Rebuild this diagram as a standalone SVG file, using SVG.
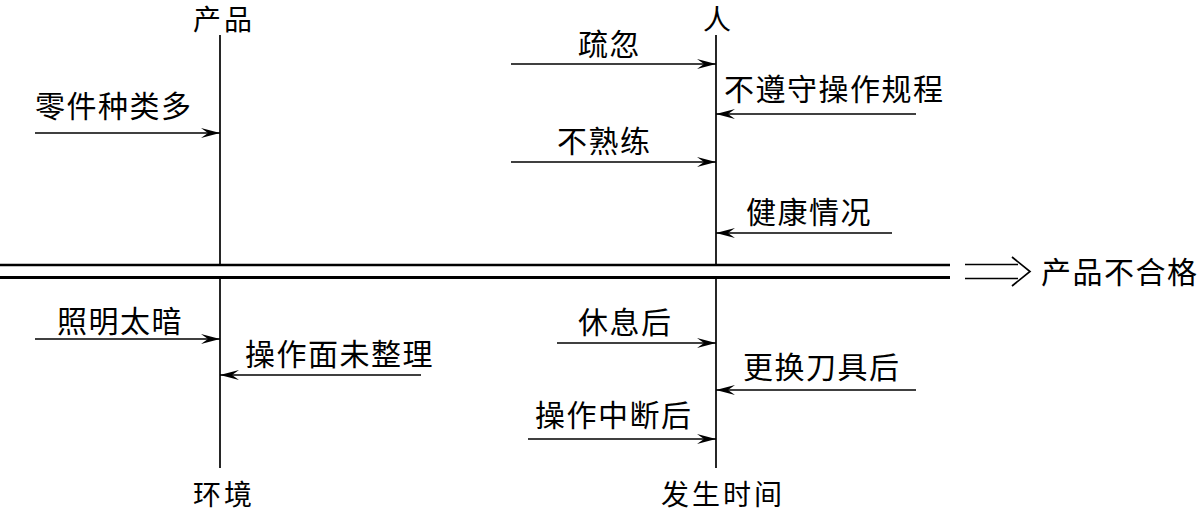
<svg xmlns="http://www.w3.org/2000/svg" width="1202" height="512" viewBox="0 0 1202 512">
<style>
text{font-family:"Noto Sans CJK SC","Noto Sans CJK JP",sans-serif;font-size:30px;fill:#000;letter-spacing:1.5px}
.edge{font-size:28px;letter-spacing:3px}
.ln{stroke:#000;stroke-width:1.7;fill:none}
.ar{stroke:#000;stroke-width:1.5;fill:none;marker-end:url(#ah)}
</style>
<defs>
<marker id="ah" markerUnits="userSpaceOnUse" markerWidth="24" markerHeight="12" viewBox="-20 -6 22 12" refX="0" refY="0" orient="auto">
<path d="M0,0 L-19,-5 L-12,0 L-19,5 Z" fill="#000"/>
</marker>
</defs>
<rect width="1202" height="512" fill="#fff"/>
<g id="spine">
<line x1="0" y1="265" x2="950" y2="265" stroke="#000" stroke-width="2.4"/>
<line x1="0" y1="277.5" x2="950" y2="277.5" stroke="#000" stroke-width="3.2"/>
<path d="M965,264.5 H1018 M965,278.5 H1018 M1012,257 L1030,271.5 L1012,286" class="ln" stroke-width="1.8"/>
</g>
<g id="node-product"><text class="edge" x="193" y="30">产品</text></g>
<g id="node-person"><text class="edge" x="703" y="30">人</text></g>
<g id="node-env"><text class="edge" x="193" y="505">环境</text></g>
<g id="node-time"><text class="edge" x="661" y="505">发生时间</text></g>
<g id="node-result"><text x="1041" y="283">产品不合格</text></g>
<g id="bones">
<line class="ln" x1="220" y1="35" x2="220" y2="264"/>
<line class="ln" x1="220" y1="279" x2="220" y2="468"/>
<line class="ln" x1="716" y1="35" x2="716" y2="264"/>
<line class="ln" x1="716" y1="279" x2="716" y2="468"/>
</g>
<g id="connectors">
<line class="ar" x1="35" y1="133" x2="220" y2="133"/>
<line class="ar" x1="511" y1="64" x2="716" y2="64"/>
<line class="ar" x1="916" y1="114" x2="716" y2="114"/>
<line class="ar" x1="511" y1="162" x2="716" y2="162"/>
<line class="ar" x1="892" y1="233" x2="716" y2="233"/>
<line class="ar" x1="35" y1="339" x2="220" y2="339"/>
<line class="ar" x1="421" y1="375" x2="220" y2="375"/>
<line class="ar" x1="557" y1="343" x2="716" y2="343"/>
<line class="ar" x1="916" y1="390" x2="716" y2="390"/>
<line class="ar" x1="528" y1="439" x2="716" y2="439"/>
</g>
<g id="labels">
<g id="c1"><text x="35" y="117">零件种类多</text></g>
<g id="c2"><text x="578" y="55">疏忽</text></g>
<g id="c3"><text x="724" y="100">不遵守操作规程</text></g>
<g id="c4"><text x="557" y="152">不熟练</text></g>
<g id="c5"><text x="746" y="223">健康情况</text></g>
<g id="c6"><text x="57" y="332">照明太暗</text></g>
<g id="c7"><text x="245" y="365">操作面未整理</text></g>
<g id="c8"><text x="578" y="333">休息后</text></g>
<g id="c9"><text x="743" y="378">更换刀具后</text></g>
<g id="c10"><text x="535" y="426">操作中断后</text></g>
</g>
</svg>
